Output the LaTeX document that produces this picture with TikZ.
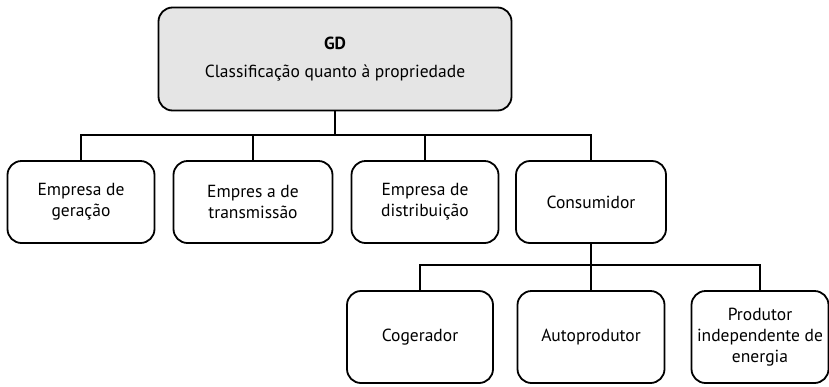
\documentclass[tikz,border=0pt]{standalone}
\usepackage{fontspec}
\setmainfont{PT Sans}
\begin{document}
\begin{tikzpicture}[x=1pt,y=-1pt,
  box/.style={draw=black, line width=1.8pt, rounded corners=14pt, align=center,
    inner sep=0pt, font=\fontsize{17.5}{21}\selectfont, text=black},
  conn/.style={draw=black, line width=1.8pt}]
\useasboundingbox (0,0) rectangle (829,386);
\node[box, fill=black!10, minimum width=353pt, minimum height=103pt] (gd) at (335,59)
  {\textbf{GD}\\[7pt]Classificação quanto à propriedade};
\node[box, minimum width=147pt, minimum height=82pt] (ger) at (81,202) {Empresa de\\geração};
\node[box, minimum width=159pt, minimum height=82pt] (tra) at (253,202) {Empres a de\\transmissão};
\node[box, minimum width=147pt, minimum height=82pt] (dis) at (425,202) {Empresa de\\distribuição};
\node[box, minimum width=150pt, minimum height=82pt] (con) at (591,202) {Consumidor};
\node[box, minimum width=146pt, minimum height=92pt] (cog) at (420,337) {Cogerador};
\node[box, minimum width=147pt, minimum height=92pt] (aut) at (591,337) {Autoprodutor};
\node[box, minimum width=137pt, minimum height=92pt] (pro) at (760,337) {Produtor\\independente de\\energia};
\coordinate (bus1) at (335,135);
\coordinate (bus2) at (591,265);
\draw[conn] (gd.south) -- (bus1);
\draw[conn] (ger.north) |- (bus1) -| (con.north);
\draw[conn] (tra.north) -- (tra.north |- bus1);
\draw[conn] (dis.north) -- (dis.north |- bus1);
\draw[conn] (con.south) -- (bus2);
\draw[conn] (cog.north) |- (bus2) -| (pro.north);
\draw[conn] (aut.north) -- (bus2);
\end{tikzpicture}
\end{document}
